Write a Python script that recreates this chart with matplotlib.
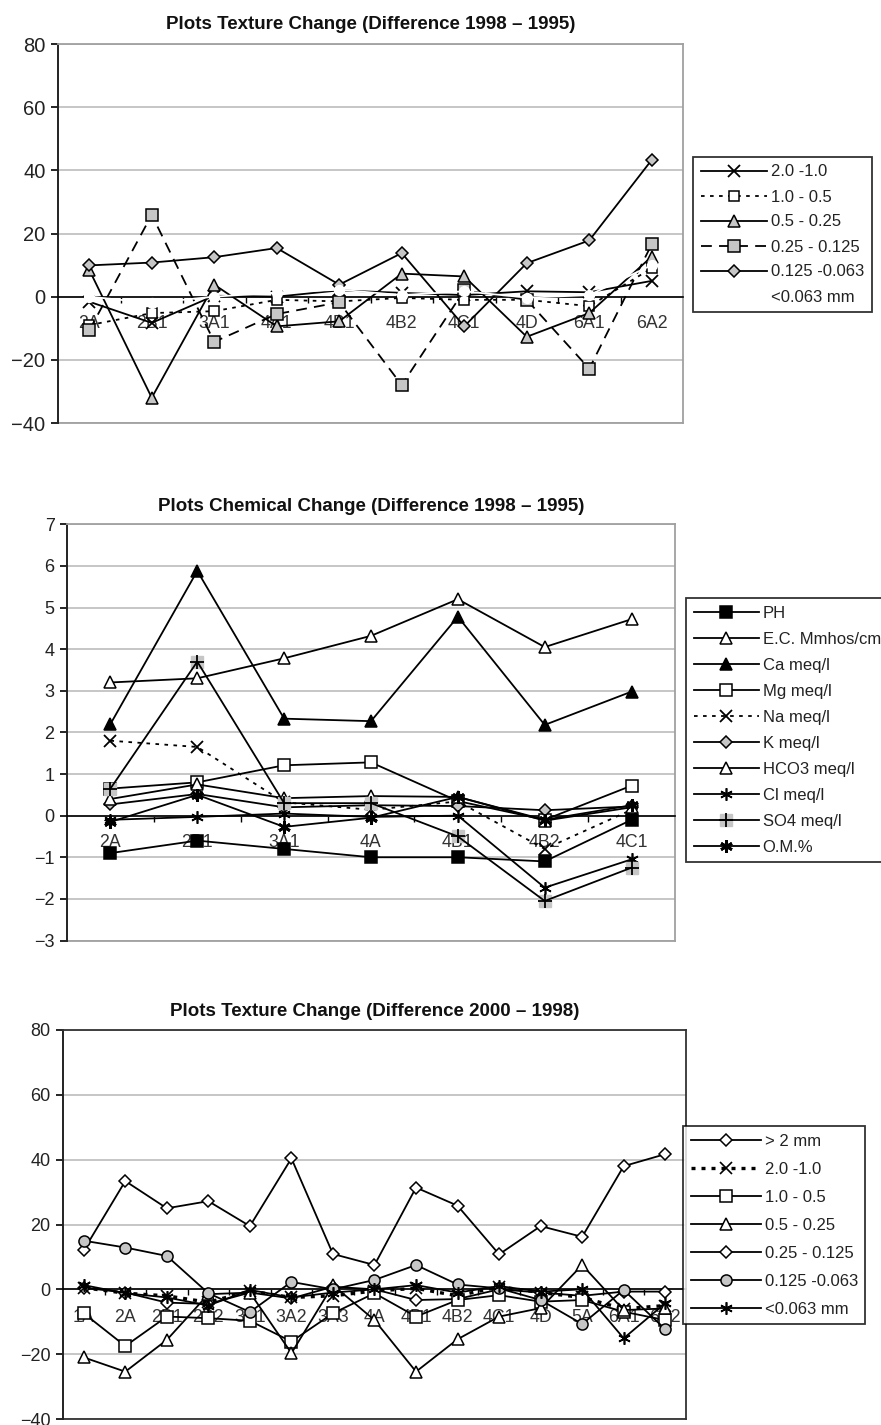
import numpy as np
import matplotlib
matplotlib.use("Agg")
import matplotlib.pyplot as plt

plt.rcParams['font.family'] = ['Liberation Sans', 'DejaVu Sans']

# ---------------- data: texture change 1998 - 1995 ----------------
cats1 = ['2A', '2B1', '3A1', '4A1', '4B1', '4B2', '4C1', '4D', '6A1', '6A2']
t1_20_10 = [-1.6, -8.3, 0.3, 0.0, 2.0, 1.2, 0.5, 1.7, 1.4, 5.0]
t1_10_05 = [-9.0, -5.2, -4.6, -1.0, -1.5, -0.4, -1.0, -1.0, -3.0, 9.0]
t1_05_025 = [8.5, -32.0, 3.8, -9.4, -7.8, 7.3, 6.4, -12.7, -5.2, 12.7]
t1_025_0125 = [-10.7, 25.9, -14.3, -5.5, -1.8, -28.0, 2.0, -1.0, -22.8, 16.6]
t1_0125_0063 = [9.9, 10.8, 12.5, 15.4, 3.8, 13.8, -9.4, 10.6, 17.8, 43.3]
t1_lt0063 = [0.0, -2.0, 0.0, 1.3, 2.2, 0.5, 1.7, -0.3, 0.5, 10.0]

# ---------------- data: chemical change 1998 - 1995 ----------------
cats2 = ['2A', '2B1', '3A1', '4A', '4B1', '4B2', '4C1']
ph = [-0.9, -0.6, -0.8, -1.0, -1.0, -1.1, -0.1]
ec = [3.2, 3.3, 3.78, 4.32, 5.2, 4.05, 4.72]
ca = [2.2, 5.88, 2.33, 2.27, 4.78, 2.18, 2.98]
mg = [0.65, 0.8, 1.21, 1.28, 0.35, -0.1, 0.72]
na = [1.8, 1.65, 0.32, 0.14, 0.34, -0.8, 0.14]
k = [0.27, 0.52, 0.2, 0.25, 0.23, 0.13, 0.22]
hco3 = [0.4, 0.75, 0.42, 0.47, 0.45, -0.12, 0.2]
cl = [-0.1, -0.03, 0.05, -0.03, 0.0, -1.73, -1.05]
so4 = [0.65, 3.7, 0.3, 0.3, -0.5, -2.05, -1.25]
om = [-0.15, 0.5, -0.27, -0.05, 0.45, -0.1, 0.25]

# ---------------- data: texture change 2000 - 1998 ----------------
cats3 = ['1A', '2A', '2B1', '2B2', '3A1', '3A2', '3A3', '4A', '4B1', '4B2',
         '4C1', '4D', '5A', '6A1', '6A2']
t3_gt2 = [0.5, -1.0, -4.1, -4.5, -1.0, -2.8, 0.8, 0.0, -3.3, -3.0, 0.0, -1.0, -2.0, -0.7, -0.7]
t3_20_10 = [0.5, -1.2, -2.0, -4.0, -0.5, -2.5, -2.0, -0.5, 0.3, -2.0, 0.8, -1.0, -2.5, -6.0, -5.0]
t3_10_05 = [-7.4, -17.5, -8.4, -8.9, -9.7, -16.1, -7.4, -1.2, -8.4, -3.3, -1.8, -3.8, -3.3, -6.9, -9.5]
t3_05_025 = [-21.0, -25.4, -15.6, -1.5, -1.0, -19.7, 1.3, -9.5, -25.4, -15.4, -8.4, -5.8, 7.5, -6.4, -5.9]
t3_025_0125 = [12.1, 33.4, 25.0, 27.2, 19.5, 40.4, 10.9, 7.5, 31.4, 25.8, 10.8, 19.5, 16.2, 38.0, 41.7]
t3_0125_0063 = [15.0, 12.9, 10.3, -1.2, -7.0, 2.3, 0.0, 2.9, 7.5, 1.5, 0.3, -3.3, -10.7, -0.2, -12.3]
t3_lt0063 = [1.3, -1.2, -2.5, -5.0, -0.2, -2.5, -1.0, 0.0, 1.3, -1.0, 1.0, -0.7, 0.0, -15.1, -4.3]

GRAY = '#c6c6c6'
GRID = '#c2c2c2'
ASTER = (6, 2, 0)

W, H = 881, 1425
fig = plt.figure(figsize=(W / 100, H / 100), dpi=100)


def box(l, t, r, b):
    return [l / W, 1 - b / H, (r - l) / W, (b - t) / H]


def style_axes(ax, cats, ymin, ymax, step, frame, tick_fs, cat_fs, cat_pad):
    n = len(cats)
    ax.set_xlim(-0.5, n - 0.5)
    ax.set_ylim(ymin, ymax)
    ax.set_yticks(np.arange(ymin, ymax + step / 2, step))
    ax.yaxis.grid(True, color=GRID, lw=1.3)
    ax.set_axisbelow(True)
    ax.spines['bottom'].set_position(('data', 0))
    ax.spines['bottom'].set_color('black')
    ax.spines['bottom'].set_linewidth(1.2)
    ax.spines['left'].set_color('#222222')
    ax.spines['left'].set_linewidth(1.4)
    for s in ('top', 'right'):
        ax.spines[s].set_color(frame)
        ax.spines[s].set_linewidth(1.3)
    ax.axhline(ymin, color=frame, lw=1.3, clip_on=False, zorder=1)
    ax.set_xticks(range(n))
    ax.set_xticklabels(cats, fontsize=cat_fs, color='#333333')
    ax.set_xticks(np.arange(0.5, n - 0.5, 1), minor=True)
    ax.tick_params(axis='x', which='major', length=0, pad=cat_pad)
    ax.tick_params(axis='x', which='minor', length=4, width=1, direction='out', color='black')
    ax.tick_params(axis='y', length=5, width=1.2, direction='out', labelsize=tick_fs,
                   labelcolor='#222222', pad=4)


def series(ax, x, y, marker, ms, mfc, ls='-', lw=1.3, color='black', mew=1.1, z=3):
    return ax.plot(x, y, ls=ls, lw=lw, color=color, marker=marker, ms=ms,
                   mfc=mfc, mec='black' if color == 'black' else color, mew=mew, zorder=z)[0]


def legend(ax, handles, labels, left, top, spacing, hl):
    leg = ax.legend(handles, labels, loc='upper left',
                    bbox_to_anchor=(left / W, 1 - top / H), bbox_transform=fig.transFigure,
                    borderaxespad=0, frameon=True, fancybox=False, fontsize=12,
                    handlelength=hl, handletextpad=0.25, labelspacing=spacing,
                    borderpad=0.45, numpoints=1)
    leg.get_frame().set_edgecolor('black')
    leg.get_frame().set_linewidth(1.3)
    for t in leg.get_texts():
        t.set_color('#222222')
    return leg


TITLE_FS = 13.5

# ---------------- panel 1 ----------------
ax1 = fig.add_axes(box(58, 44, 683, 423))
x1 = np.arange(len(cats1))
style_axes(ax1, cats1, -40, 80, 20, '#a0a0a0', 14.5, 12.8, 13)
h = []
h.append(series(ax1, x1, t1_20_10, 'x', 8, 'none', mew=1.3))
h.append(series(ax1, x1, t1_10_05, 's', 6.5, 'white', ls=(0, (2, 3))))
h.append(series(ax1, x1, t1_05_025, '^', 8, GRAY))
h.append(series(ax1, x1, t1_025_0125, 's', 9, GRAY, ls=(0, (6, 4))))
h.append(series(ax1, x1, t1_0125_0063, 'D', 6, GRAY))
h.append(series(ax1, x1, t1_lt0063, 'o', 7, 'white', color='white', z=4))
ax1.set_title('Plots Texture Change (Difference 1998 \u2013 1995)', fontsize=TITLE_FS,
              fontweight='bold', pad=11, color='#111111')
legend(ax1, h, ['2.0 -1.0', '1.0 - 0.5', '0.5 - 0.25', '0.25 - 0.125', '0.125 -0.063',
                '<0.063 mm'], 693, 157, 0.6, 4.0)

# ---------------- panel 2 ----------------
ax2 = fig.add_axes(box(67, 524.3, 675, 940.5))
x2 = np.arange(len(cats2))
style_axes(ax2, cats2, -3, 7, 1, '#a0a0a0', 13, 12.8, 13)
h = []
h.append(series(ax2, x2, ph, 's', 9, 'black'))
h.append(series(ax2, x2, ec, '^', 8.5, 'white'))
h.append(series(ax2, x2, ca, '^', 8.5, 'black'))
h.append(series(ax2, x2, mg, 's', 8, 'white'))
h.append(series(ax2, x2, na, 'x', 8.5, 'none', ls=(0, (2, 3)), mew=1.3))
h.append(series(ax2, x2, k, 'D', 6, GRAY))
h.append(series(ax2, x2, hco3, '^', 8, 'white'))
h.append(series(ax2, x2, cl, ASTER, 9, 'none', mew=1.2))
so4_bg = ax2.plot(x2, so4, ls='none', marker='s', ms=8, mfc=GRAY, mec=GRAY, zorder=3)[0]
so4_fg = series(ax2, x2, so4, '+', 10, 'none', mew=1.3)
h.append((so4_bg, so4_fg))
h.append(series(ax2, x2, om, ASTER, 9, 'none', mew=2.0))
ax2.set_title('Plots Chemical Change (Difference 1998 \u2013 1995)', fontsize=TITLE_FS,
              fontweight='bold', pad=9.5, color='#111111')
legend(ax2, h, ['PH', 'E.C. Mmhos/cm', 'Ca meq/l', 'Mg meq/l', 'Na meq/l', 'K meq/l',
                'HCO3 meq/l', 'Cl meq/l', 'SO4 meq/l', 'O.M.%'], 686, 598, 0.66, 3.9)

# ---------------- panel 3 ----------------
ax3 = fig.add_axes(box(63, 1030, 686, 1419))
x3 = np.arange(len(cats3))
style_axes(ax3, cats3, -40, 80, 20, '#333333', 13, 12.8, 14)
h = []
h.append(series(ax3, x3, t3_gt2, 'D', 6, 'white'))
h.append(series(ax3, x3, t3_20_10, 'x', 8, 'none', ls=(0, (1.2, 1.8)), lw=2.4, mew=1.2))
h.append(series(ax3, x3, t3_10_05, 's', 9, 'white'))
h.append(series(ax3, x3, t3_05_025, '^', 8.5, 'white'))
h.append(series(ax3, x3, t3_025_0125, 'D', 6, 'white'))
h.append(series(ax3, x3, t3_0125_0063, 'o', 8, GRAY))
h.append(series(ax3, x3, t3_lt0063, ASTER, 9, 'none', mew=1.2))
ax3.set_title('Plots Texture Change (Difference 2000 \u2013 1998)', fontsize=TITLE_FS,
              fontweight='bold', pad=10, color='#111111')
legend(ax3, h, ['> 2 mm', '2.0 -1.0', '1.0 - 0.5', '0.5 - 0.25', '0.25 - 0.125',
                '0.125 -0.063', '<0.063 mm'], 683, 1126, 0.78, 4.2)

fig.savefig('out.png', dpi=100)
